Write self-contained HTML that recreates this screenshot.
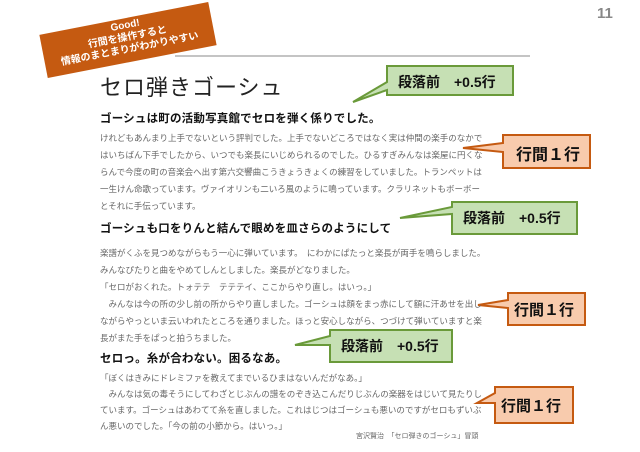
<!DOCTYPE html>
<html><head><meta charset="utf-8"><style>
body{margin:0;width:640px;height:452px;background:#fff;position:relative;overflow:hidden;font-family:"Liberation Sans","Noto Sans CJK JP",sans-serif}
.a{position:absolute;white-space:nowrap}
.b{font-size:8.5px;color:#666;line-height:17px;left:100px;letter-spacing:0px}
.h{font-size:11.5px;font-weight:bold;color:#111;left:100px;letter-spacing:0.2px}
.cl{font-weight:bold;font-size:14px;color:#111}
</style></head><body>
<svg width="640" height="452" style="position:absolute;left:0;top:0">
<line x1="175" y1="56" x2="530" y2="56" stroke="#888" stroke-width="1"/>
<polygon points="387,66 513,66 513,95 387,95 387,90 353,102 387,82" fill="#c6e0b4" stroke="#6a9a3a" stroke-width="2"/>
<polygon points="503,135 590,135 590,168 503,168 503,152 463,148 503,143" fill="#f8cbad" stroke="#c55a11" stroke-width="2"/>
<polygon points="452,202 577,202 577,234 452,234 452,214 400,218 452,207" fill="#c6e0b4" stroke="#6a9a3a" stroke-width="2"/>
<polygon points="508,293 585,293 585,325 508,325 508,308 478,305 508,300" fill="#f8cbad" stroke="#c55a11" stroke-width="2"/>
<polygon points="330,330 452,330 452,362 330,362 330,345 295,345 330,336" fill="#c6e0b4" stroke="#6a9a3a" stroke-width="2"/>
<polygon points="495,387 573,387 573,423 495,423 495,403 477,403 495,393" fill="#f8cbad" stroke="#c55a11" stroke-width="2"/>
</svg>
<div class="a" style="left:42px;top:18px;width:172px;height:42px;background:#c55a11;transform:rotate(-11deg);color:#fff;text-align:center;font-size:10px;line-height:12px;padding-top:2px;font-weight:bold">Good!<br>行間を操作すると<br>情報のまとまりがわかりやすい</div>
<div class="a" style="left:597px;top:5px;font-size:15px;font-weight:bold;color:#888">11</div>
<div class="a" style="left:100px;top:70px;font-size:22px;color:#222;letter-spacing:1px">セロ弾きゴーシュ</div>
<div class="a cl" style="left:398px;top:72px">段落前　+0.5行</div>
<div class="a cl" style="left:516px;top:141px;font-size:16px">行間１行</div>
<div class="a cl" style="left:463px;top:208px">段落前　+0.5行</div>
<div class="a cl" style="left:514px;top:299px;font-size:15px">行間１行</div>
<div class="a cl" style="left:341px;top:336px">段落前　+0.5行</div>
<div class="a cl" style="left:501px;top:395px;font-size:15px">行間１行</div>
<div class="a h" style="top:110px">ゴーシュは町の活動写真館でセロを弾く係りでした。</div>
<div class="a b" style="top:130px">けれどもあんまり上手でないという評判でした。上手でないどころではなく実は仲間の楽手のなかで<br>はいちばん下手でしたから、いつでも楽長にいじめられるのでした。ひるすぎみんなは楽屋に円くな<br>らんで今度の町の音楽会へ出す第六交響曲こうきょうきょくの練習をしていました。トランペットは<br>一生けん命歌っています。ヴァイオリンも二いろ風のように鳴っています。クラリネットもボーボー<br>とそれに手伝っています。</div>
<div class="a h" style="top:220px">ゴーシュも口をりんと結んで眼めを皿さらのようにして</div>
<div class="a b" style="top:245px">楽譜がくふを見つめながらもう一心に弾いています。　にわかにぱたっと楽長が両手を鳴らしました。<br>みんなぴたりと曲をやめてしんとしました。楽長がどなりました。<br>「セロがおくれた。トォテテ　テテテイ、ここからやり直し。はいっ。」<br>　みんなは今の所の少し前の所からやり直しました。ゴーシュは顔をまっ赤にして額に汗あせを出し<br>ながらやっといま云いわれたところを通りました。ほっと安心しながら、つづけて弾いていますと楽<br>長がまた手をぱっと拍うちました。</div>
<div class="a h" style="top:350px">セロっ。糸が合わない。困るなあ。</div>
<div class="a b" style="top:370px;line-height:16px">「ぼくはきみにドレミファを教えてまでいるひまはないんだがなあ。」<br>　みんなは気の毒そうにしてわざとじぶんの譜をのぞき込こんだりじぶんの楽器をはじいて見たりし<br>ています。ゴーシュはあわてて糸を直しました。これはじつはゴーシュも悪いのですがセロもずいぶ<br>ん悪いのでした。「今の前の小節から。はいっ。」</div>
<div class="a" style="left:356px;top:431px;font-size:7px;color:#666">宮沢賢治　「セロ弾きのゴーシュ」冒頭</div>
</body></html>
